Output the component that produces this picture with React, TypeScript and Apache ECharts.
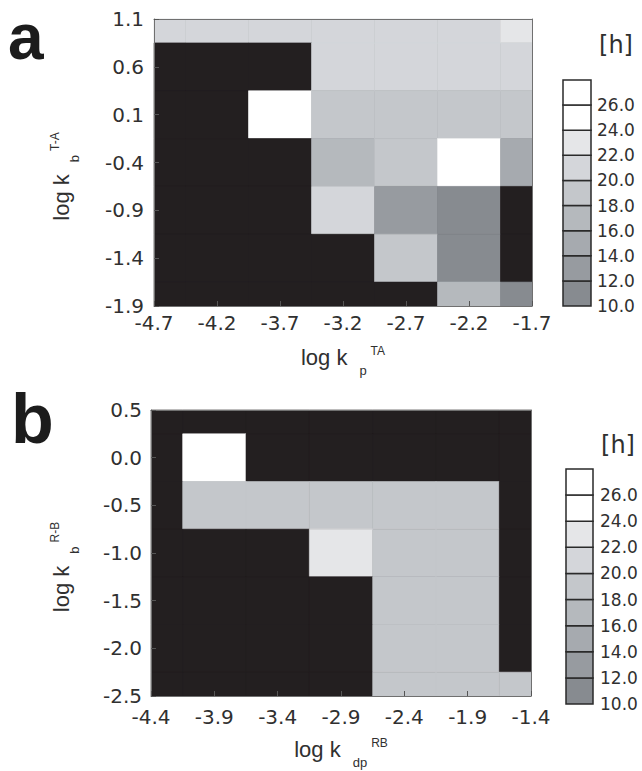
import React, { useEffect, useRef } from "react";
import * as echarts from "echarts";

// ---------- data ----------
// Panel a: tick labels (index 0 = left / bottom)
const xTicksA = ["-4.7", "-4.2", "-3.7", "-3.2", "-2.7", "-2.2", "-1.7"];
const yTicksA = ["-1.9", "-1.4", "-0.9", "-0.4", "0.1", "0.6", "1.1"];
// rows from top (1.1) to bottom (-1.9); null = no value (black)
const cellsA: (number | null)[][] = [
  [21, 21, 21, 21, 21, 21, 23],
  [null, null, null, 21, 21, 21, 21],
  [null, null, 25, 19, 19, 19, 19],
  [null, null, null, 17, 19, 25, 15],
  [null, null, null, 21, 13, 11, null],
  [null, null, null, null, 19, 11, null],
  [null, null, null, null, null, 17, 11],
];

// Panel b
const xTicksB = ["-4.4", "-3.9", "-3.4", "-2.9", "-2.4", "-1.9", "-1.4"];
const yTicksB = ["-2.5", "-2.0", "-1.5", "-1.0", "-0.5", "0.0", "0.5"];
// rows from top (0.5) to bottom (-2.5)
const cellsB: (number | null)[][] = [
  [null, null, null, null, null, null, null],
  [null, 25, null, null, null, null, null],
  [null, 19, 19, 19, 19, 19, null],
  [null, null, null, 23, 19, 19, null],
  [null, null, null, null, 19, 19, null],
  [null, null, null, null, 19, 19, null],
  [null, null, null, null, 19, 19, 19],
];

// colour bar (hours)
const colorbarEdges = [10, 12, 14, 16, 18, 20, 22, 24, 26, 28];
const colorbarTicks = [10, 12, 14, 16, 18, 20, 22, 24, 26];

// ---------- styles ----------
const BIN_COLORS = ["#878b90", "#979ba0", "#a6aaaf", "#b5b9bd", "#c4c7cb", "#d4d6da", "#e5e6e8", "#ffffff", "#ffffff"];
const BLACK = "#231f20";
const TEXT = "#303030";
const FRAME = "#707070";
const FONT_TICK = '"DejaVu Sans", sans-serif';
const FONT_NAME = '"Liberation Sans", Arial, sans-serif';

function colorFor(v: any): string {
  if (v === null || v === undefined || isNaN(v)) return BLACK;
  for (let i = 0; i < colorbarEdges.length - 1; i++) {
    if (v >= colorbarEdges[i] && v < colorbarEdges[i + 1]) return BIN_COLORS[i];
  }
  return v < colorbarEdges[0] ? BIN_COLORS[0] : BIN_COLORS[BIN_COLORS.length - 1];
}

function cellData(rows: (number | null)[][]) {
  const n = rows.length;
  const out: any[] = [];
  rows.forEach((row, r) => row.forEach((v, c) => out.push([c, n - 1 - r, v === null ? NaN : v])));
  return out;
}

function renderCell(params: any, api: any) {
  const c = api.value(0);
  const r = api.value(1);
  const v = api.value(2);
  const p0 = api.coord([c - 0.5, r + 0.5]);
  const p1 = api.coord([c + 0.5, r - 0.5]);
  const cs = params.coordSys;
  const shape = echarts.graphic.clipRectByRect(
    { x: p0[0], y: p0[1], width: p1[0] - p0[0], height: p1[1] - p0[1] },
    { x: cs.x, y: cs.y, width: cs.width, height: cs.height }
  );
  if (!shape) return null;
  const fill = colorFor(v);
  return { type: "rect", shape, style: { fill, stroke: fill, lineWidth: 0.6 } };
}

function renderBox(params: any, api: any) {
  const lo = api.value(1);
  const hi = api.value(2);
  const p0 = api.coord([0, hi]);
  const p1 = api.coord([1, lo]);
  return {
    type: "rect",
    shape: { x: p0[0], y: p0[1], width: p1[0] - p0[0], height: p1[1] - p0[1] },
    style: { fill: colorFor((lo + hi) / 2), stroke: "#2a2a2a", lineWidth: 1.5 },
  };
}

function nameRich(extraRight: number) {
  return {
    m: { fontFamily: FONT_NAME, fontSize: 22, color: TEXT, lineHeight: 40 },
    sub: { fontFamily: FONT_NAME, fontSize: 13, color: TEXT, verticalAlign: "bottom", padding: [0, 0, 0, 12] },
    sup: { fontFamily: FONT_NAME, fontSize: 12, color: TEXT, verticalAlign: "top", padding: [8, extraRight, 0, 4] },
  };
}

function heatAxes(gi: number, xt: string[], yt: string[], xName: string, yName: string, xGap: number, yGap: number, xMargin: number, yMargin: number) {
  const common = { gridIndex: gi, type: "value", min: 0, max: 6, interval: 1, z: 5, splitLine: { show: false } };
  const line = { show: true, onZero: false, lineStyle: { color: FRAME, width: 1 } };
  const tick = { show: true, inside: true, length: 5, lineStyle: { color: "#555", width: 1 } };
  const xAxes = [
    {
      ...common,
      position: "bottom",
      axisLine: line,
      axisTick: tick,
      axisLabel: { formatter: (v: number) => xt[Math.round(v)], fontFamily: FONT_TICK, fontSize: 20, color: TEXT, margin: xMargin },
      name: xName,
      nameLocation: "middle",
      nameGap: xGap,
      nameTextStyle: { rich: nameRich(0) },
    },
    { ...common, position: "top", axisLine: line, axisTick: { show: false }, axisLabel: { show: false } },
  ];
  const yAxes = [
    {
      ...common,
      position: "left",
      axisLine: line,
      axisTick: tick,
      axisLabel: { formatter: (v: number) => yt[Math.round(v)], fontFamily: FONT_TICK, fontSize: 20, color: TEXT, margin: yMargin },
      name: yName,
      nameLocation: "middle",
      nameRotate: 90,
      nameGap: yGap,
      nameTextStyle: { rich: nameRich(28) },
    },
    { ...common, position: "right", axisLine: line, axisTick: { show: false }, axisLabel: { show: false } },
  ];
  return { xAxes, yAxes };
}

function cbAxes(gi: number, margin: number) {
  return {
    x: { gridIndex: gi, type: "value", min: 0, max: 1, show: false },
    y: {
      gridIndex: gi,
      type: "value",
      min: 10,
      max: 28,
      interval: 2,
      position: "right",
      axisLine: { show: false },
      axisTick: { show: false },
      splitLine: { show: false },
      axisLabel: {
        formatter: (v: number) => (colorbarTicks.indexOf(v) >= 0 ? v.toFixed(1) : ""),
        fontFamily: FONT_TICK,
        fontSize: 17,
        color: TEXT,
        margin,
        padding: [6, 0, 0, 0],
      },
    },
  };
}

export default function App() {
  const ref = useRef<HTMLDivElement>(null);
  useEffect(() => {
    document.body.style.margin = "0";
    if (!ref.current) return;
    const chart = echarts.init(ref.current, null, { renderer: "svg" });

    const a = heatAxes(0, xTicksA, yTicksA, "{m|log k}{sub|p}{sup|TA}", "{m|log k}{sub|b}{sup|T-A}", 31, 73, 7, 10);
    const b = heatAxes(1, xTicksB, yTicksB, "{m|log k}{sub|dp}{sup|RB}", "{m|log k}{sub|b}{sup|R-B}", 33, 70, 11, 9);
    const ca = cbAxes(2, 6);
    const cb = cbAxes(3, 7);
    const bins = colorbarEdges.slice(0, -1).map((lo, i) => [0, lo, colorbarEdges[i + 1]]);

    const gridBase = { show: true, backgroundColor: BLACK, borderWidth: 0, containLabel: false, outerBoundsMode: "none" };
    const option: any = {
      animation: false,
      backgroundColor: "#ffffff",
      grid: [
        { ...gridBase, left: 154, top: 19, width: 378, height: 287 },
        { ...gridBase, left: 151, top: 410, width: 380, height: 286 },
        { show: false, containLabel: false, outerBoundsMode: "none", left: 563, top: 80, width: 28, height: 226 },
        { show: false, containLabel: false, outerBoundsMode: "none", left: 566, top: 469, width: 27, height: 235 },
      ],
      xAxis: [a.xAxes[0], a.xAxes[1], b.xAxes[0], b.xAxes[1], ca.x, cb.x],
      yAxis: [a.yAxes[0], a.yAxes[1], b.yAxes[0], b.yAxes[1], ca.y, cb.y],
      series: [
        { type: "custom", xAxisIndex: 0, yAxisIndex: 0, data: cellData(cellsA), encode: { x: 0, y: 1 }, renderItem: renderCell, silent: true },
        { type: "custom", xAxisIndex: 2, yAxisIndex: 2, data: cellData(cellsB), encode: { x: 0, y: 1 }, renderItem: renderCell, silent: true },
        { type: "custom", xAxisIndex: 4, yAxisIndex: 4, data: bins, encode: { x: 0, y: [1, 2] }, renderItem: renderBox, silent: true },
        { type: "custom", xAxisIndex: 5, yAxisIndex: 5, data: bins, encode: { x: 0, y: [1, 2] }, renderItem: renderBox, silent: true },
      ],
      graphic: [
        { type: "text", x: 8, y: 37, style: { text: "a", fontFamily: FONT_NAME, fontWeight: "bold", fontSize: 64, fill: "#1c1c1c", verticalAlign: "middle" } },
        { type: "text", x: 11, y: 419, style: { text: "b", fontFamily: FONT_NAME, fontWeight: "bold", fontSize: 70, fill: "#1c1c1c", verticalAlign: "middle" } },
        { type: "text", x: 616, y: 45, style: { text: "[h]", fontFamily: FONT_TICK, fontSize: 24, fill: TEXT, align: "center", verticalAlign: "middle" } },
        { type: "text", x: 618, y: 445, style: { text: "[h]", fontFamily: FONT_TICK, fontSize: 24, fill: TEXT, align: "center", verticalAlign: "middle" } },
      ],
    };
    chart.setOption(option);
    return () => chart.dispose();
  }, []);
  return <div ref={ref} style={{ width: 642, height: 771 }} />;
}
